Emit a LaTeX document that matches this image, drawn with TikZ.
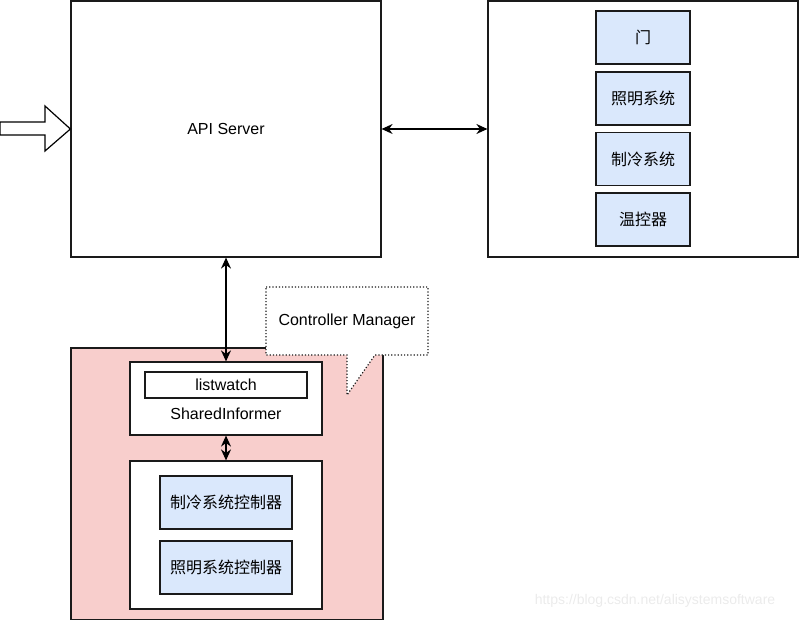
\documentclass[tikz,border=0pt]{standalone}
\usepackage{fontspec}
\setsansfont{Liberation Sans}
\newfontfamily\cjk{Noto Sans CJK SC}
\usetikzlibrary{arrows.meta, positioning}
\definecolor{boxblue}{HTML}{DAE8FC}
\definecolor{boxpink}{HTML}{F8CECC}
\definecolor{linegray}{HTML}{1A1A1A}

\begin{document}
\begin{tikzpicture}[x=1pt, y=-1pt,
  font=\sffamily\fontsize{16}{19}\selectfont,
  plain/.style={draw=linegray, line width=1.2pt, fill=white, inner sep=0pt},
  part/.style={plain, fill=boxblue, minimum width=94pt, minimum height=53pt},
  ctrlpart/.style={plain, fill=boxblue, minimum width=132pt, minimum height=53pt},
  biarrow/.style={line width=1.2pt, {Stealth[length=11pt,width=10pt]}-{Stealth[length=11pt,width=10pt]}}]
  \clip (0,0) rectangle (800,620);

  % 1) API server and the devices
  \node[plain, minimum width=310pt, minimum height=256pt] (api) at (226,129) {API Server};
  \node[plain, minimum width=310pt, minimum height=256pt] (dev) at (643,129) {};
  \node[part] (door)  at (643,37.5)  {\cjk 门};
  \node[part] (light) at (643,98.5)  {\cjk 照明系统};
  \node[part] (cool)  at (643,159)   {\cjk 制冷系统};
  \node[part] (temp)  at (643,219.5) {\cjk 温控器};

  % 2) incoming hollow arrow
  \coordinate (tip) at (api.west);
  \draw[line width=1.2pt, fill=white] (0,122) -- (45,122) -- (45,106) -- (tip)
    -- (45,151) -- (45,135) -- (0,135) -- cycle;

  % 3) controller manager (pink)
  \node[plain, fill=boxpink, minimum width=312pt, minimum height=272pt] (mgr) at (227,484) {};
  \node[plain, minimum width=192pt, minimum height=73pt] (informer) at (226,398.5) {};
  \node[plain, minimum width=162pt, minimum height=26pt] (watch) at (226,385) {listwatch};
  \node (shared) at (226,414) {SharedInformer};
  \node[plain, minimum width=192pt, minimum height=148pt] (ctrl) at (226,535) {};
  \node[ctrlpart] (c1) at (226,502.5) {\cjk 制冷系统控制器};
  \node[ctrlpart] (c2) at (226,567.5) {\cjk 照明系统控制器};

  % 4) callout
  \draw[linegray, line width=1.2pt, dotted, fill=white]
    (266,287) -- (428,287) -- (428,355) -- (375,355) -- (347,395)
    -- (347,355) -- (266,355) -- cycle;
  \node (callout) at (347,321) {Controller Manager};

  % 5) connectors
  \draw[biarrow] (api) -- (dev);
  \draw[biarrow] (api.south) -- (informer.north);
  \draw[biarrow] (informer.south) -- (ctrl.north);

  % watermark
  \node[text=black!8, font=\sffamily\fontsize{14}{16}\selectfont] (mark) at (655,601) {https://blog.csdn.net/alisystemsoftware};
\end{tikzpicture}
\end{document}
